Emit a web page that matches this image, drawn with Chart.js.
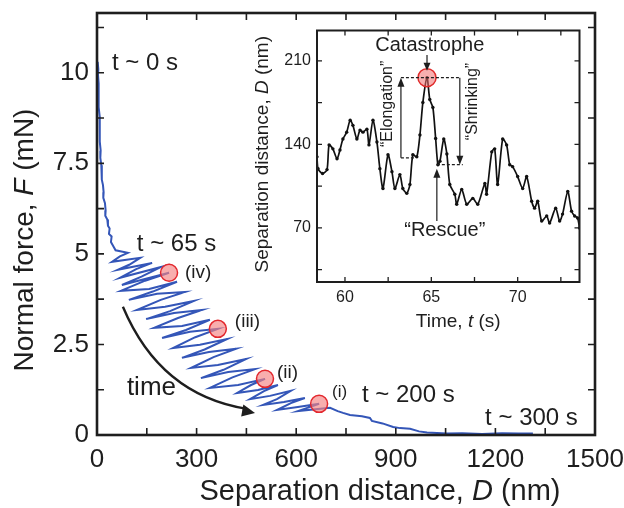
<!DOCTYPE html>
<html>
<head>
<meta charset="utf-8">
<script src="https://cdn.jsdelivr.net/npm/chart.js@4.4.1/dist/chart.umd.min.js"></script>
<style>
  html, body { margin: 0; padding: 0; background: #fff; }
  #wrap { position: relative; width: 624px; height: 508px; overflow: hidden; }
  #main { position: absolute; left: 0; top: 0; }
  #inset { position: absolute; left: 250px; top: 20px; }
</style>
</head>
<body>
<div id="wrap">
  <canvas id="main" width="624" height="508"></canvas>
  <canvas id="inset" width="340" height="320"></canvas>
</div>
<script>
const FONT = '"Liberation Sans", Arial, Helvetica, sans-serif';
const INK = '#1e1e1e';

// ---- Main panel: force trace [separation (nm), force (mN)] ----
const forceTrace = [
  [2, 10.30], [4, 10.10], [3, 9.95], [5, 9.70], [4, 9.50], [6, 9.25], [5, 9.05], [8, 8.80], [7, 8.60], [9, 8.35],
  [9, 8.10], [11, 7.85], [10, 7.65], [13, 7.45], [15, 7.20], [14, 7.05], [18, 6.90], [20, 6.70], [19, 6.55], [24, 6.40],
  [26, 6.20], [25, 6.05], [31, 5.95], [33, 5.78], [38, 5.70], [36, 5.55], [44, 5.48], [42, 5.33], [50, 5.20], [56, 5.10],
  // loading / slip cycles
  [93, 5.03], [69, 4.93], [45, 4.78], [130, 4.89], [97, 4.70], [63, 4.56], [166, 4.75], [118, 4.58], [69, 4.34],
  [193, 4.64], [134, 4.37], [75, 4.14], [217, 4.48], [145, 4.26],
  [72, 3.98], [157, 4.03], [241, 4.23], [168, 3.96], [96, 3.73], [181, 3.90], [265, 3.95], [192, 3.73], [120, 3.45],
  [205, 3.54], [292, 3.70], [220, 3.42], [148, 3.20], [232, 3.37], [316, 3.45], [244, 3.23], [172, 2.96], [256, 3.01],
  [340, 3.18], [268, 2.90], [196, 2.68], [280, 2.85], [364, 2.93], [296, 2.70],
  [229, 2.40], [310, 2.49], [392, 2.65], [324, 2.36], [256, 2.13], [337, 2.29], [419, 2.38], [351, 2.15], [283, 1.85],
  [364, 1.93], [449, 2.10], [381, 1.80], [313, 1.57], [395, 1.74], [476, 1.82], [408, 1.59], [340, 1.30], [425, 1.38],
  [506, 1.55], [464, 1.38],
  [422, 1.16], [485, 1.24], [545, 1.38], [503, 1.21], [461, 0.99], [521, 1.08], [584, 1.22], [542, 0.99], [500, 0.83],
  [563, 0.91], [626, 1.02], [584, 0.88], [542, 0.69], [605, 0.77], [669, 0.86],
  [605, 0.66], [702, 0.75], [725, 0.66], [741, 0.61], [762, 0.55], [798, 0.52], [822, 0.47],
  [828, 0.39], [860, 0.32], [892, 0.22], [913, 0.19], [943, 0.17], [970, 0.10], [994, 0.07], [1054, 0.04],
  [1100, 0.05], [1160, 0.03], [1220, 0.05], [1270, 0.04], [1313, 0.04]
];
const markerD = [217, 364, 506, 669];
const markerF = [4.48, 2.93, 1.55, 0.86];
const markerNames = ['(iv)', '(iii)', '(ii)', '(i)'];
const xTickValues = [0, 300, 600, 900, 1200, 1500];
const xMinorValues = [150, 450, 750, 1050, 1350];
const yTickValues = [0, 2.5, 5, 7.5, 10];
const yMinorValues = [1.25, 3.75, 6.25, 8.75, 11.25];

// ---- Inset: separation vs time ----
const timeS = [
  58.38, 58.44, 58.70, 58.96, 59.08, 59.30, 59.54, 59.71, 59.88, 60.10, 60.30, 60.46, 60.69, 60.87, 61.04, 61.27,
  61.39, 61.62, 61.85, 62.02, 62.20, 62.49, 62.72, 62.89, 63.18, 63.35, 63.58, 63.76, 63.93, 64.16, 64.34, 64.51,
  64.75, 64.91, 65.09, 65.25, 65.38, 65.50, 65.72, 65.90, 66.07, 66.36, 66.47, 66.76, 67.05, 67.40, 67.69, 68.10,
  68.20, 68.50, 68.67, 68.84, 69.13, 69.36, 69.54, 69.71, 70.00, 70.29, 70.52, 70.81, 70.98, 71.16, 71.39, 71.68,
  71.85, 72.20, 72.43, 72.60, 72.90, 73.12, 73.30, 73.47, 73.58
];
const gapNm = [
  129.6, 119.7, 115.6, 118.9, 139.6, 136.3, 128.0, 135.4, 144.5, 150.3, 160.3, 156.0, 144.5, 152.0, 150.3, 152.8,
  139.6, 160.3, 142.1, 119.7, 103.1, 131.3, 117.2, 103.1, 114.7, 103.1, 99.0, 106.4, 131.3, 129.6, 147.9, 175.2,
  196.0, 177.7, 171.0, 145.0, 123.0, 126.0, 144.5, 132.0, 106.4, 98.2, 89.9, 102.3, 89.9, 94.8, 89.9, 107.3,
  98.2, 133.8, 136.3, 106.4, 144.5, 139.6, 123.0, 121.4, 113.1, 103.1, 113.1, 92.4, 86.6, 92.4, 75.8, 80.0,
  74.1, 86.6, 75.8, 81.6, 100.6, 84.1, 80.0, 78.3, 70.0
];
const insetXTicks = [60, 65, 70];
const insetXMinor = [62.5, 67.5, 72.5];
const insetYTicks = [70, 140, 210];
const insetYMinor = [35, 105, 175];

// ---------- drawing helpers ----------
function drawRich(ctx, parts, cx, cy, angle, size) {
  ctx.save();
  ctx.translate(cx, cy);
  ctx.rotate(angle);
  ctx.fillStyle = INK;
  ctx.textBaseline = 'middle';
  ctx.textAlign = 'left';
  const fonts = parts.map(p => (p[1] ? 'italic ' : '') + size + 'px ' + FONT);
  let total = 0;
  parts.forEach((p, i) => { ctx.font = fonts[i]; total += ctx.measureText(p[0]).width; });
  let pos = -total / 2;
  parts.forEach((p, i) => { ctx.font = fonts[i]; ctx.fillText(p[0], pos, 0); pos += ctx.measureText(p[0]).width; });
  ctx.restore();
}

function drawText(ctx, text, x, y, size, align, angle) {
  ctx.save();
  ctx.translate(x, y);
  if (angle) ctx.rotate(angle);
  ctx.font = size + 'px ' + FONT;
  ctx.fillStyle = INK;
  ctx.textAlign = align || 'left';
  ctx.textBaseline = 'middle';
  ctx.fillText(text, 0, 0);
  ctx.restore();
}

function arrowHead(ctx, x, y, dx, dy, len, half) {
  const n = Math.hypot(dx, dy) || 1;
  const ux = dx / n, uy = dy / n;
  ctx.beginPath();
  ctx.moveTo(x, y);
  ctx.lineTo(x - ux * len - uy * half, y - uy * len + ux * half);
  ctx.lineTo(x - ux * len + uy * half, y - uy * len - ux * half);
  ctx.closePath();
  ctx.fill();
}

// Box around the plot area with inward tick marks on all four sides
const framePlugin = {
  id: 'frame',
  afterDraw(chart, args, opts) {
    const { ctx, chartArea: a, scales: { x, y } } = chart;
    ctx.save();
    ctx.strokeStyle = INK;
    ctx.lineWidth = opts.tickWidth;
    ctx.beginPath();
    opts.xMarks.forEach(v => {
      const p = x.getPixelForValue(v);
      ctx.moveTo(p, a.bottom); ctx.lineTo(p, a.bottom - opts.tickLen);
      ctx.moveTo(p, a.top); ctx.lineTo(p, a.top + opts.tickLen);
    });
    opts.yMarks.forEach(v => {
      const p = y.getPixelForValue(v);
      ctx.moveTo(a.left, p); ctx.lineTo(a.left + opts.tickLen, p);
      ctx.moveTo(a.right, p); ctx.lineTo(a.right - opts.tickLen, p);
    });
    ctx.stroke();
    ctx.lineWidth = opts.lineWidth;
    ctx.strokeRect(a.left, a.top, a.right - a.left, a.bottom - a.top);
    ctx.restore();
  }
};

function fixedAxis(size, horizontal) {
  return scale => {
    if (horizontal) scale.height = size; else scale.width = size;
    scale.paddingLeft = scale.paddingRight = scale.paddingTop = scale.paddingBottom = 0;
  };
}

const plainLabel = v => String(v);

// Text, labels and the curved arrow of the main panel
const mainNotesPlugin = {
  id: 'mainNotes',
  afterDatasetsDraw(chart) {
    const { ctx, scales: { x, y } } = chart;
    const px = v => x.getPixelForValue(v), py = v => y.getPixelForValue(v);

    drawText(ctx, 't ~ 0 s', px(45), py(10.25), 24);
    drawText(ctx, 't ~ 65 s', px(120), py(5.25), 24);
    drawText(ctx, 't ~ 200 s', px(798), py(1.10), 24);
    drawText(ctx, 't ~ 300 s', px(1169), py(0.47), 24);
    drawText(ctx, 'time', px(90), py(1.30), 26);

    const offs = [[16, 0, 19], [17, -7, 19], [12, -6, 19], [13, -12, 17]];
    markerNames.forEach((name, i) => {
      drawText(ctx, name, px(markerD[i]) + offs[i][0], py(markerF[i]) + offs[i][1], offs[i][2]);
    });

    // curved "time" arrow
    const sx = px(78), sy = py(3.54), cx = px(190), cy = py(1.10), ex = px(476), ey = py(0.61);
    ctx.save();
    ctx.strokeStyle = INK;
    ctx.fillStyle = INK;
    ctx.lineWidth = 2.4;
    ctx.beginPath();
    ctx.moveTo(sx, sy);
    ctx.quadraticCurveTo(cx, cy, ex - 8, ey - 4);
    ctx.stroke();
    arrowHead(ctx, ex, ey, ex - cx, ey - cy, 13, 6);
    ctx.restore();

    // axis titles
    drawRich(ctx, [['Separation distance, ', 0], ['D', 1], [' (nm)', 0]], 380, 492, 0, 29);
    drawRich(ctx, [['Normal force, ', 0], ['F', 1], [' (mN)', 0]], 25, 240, -Math.PI / 2, 28);
  }
};

// Annotations of the inset: catastrophe / rescue arrows and guide lines
const insetNotesPlugin = {
  id: 'insetNotes',
  afterDatasetsDraw(chart) {
    const { ctx, chartArea: a, scales: { x, y } } = chart;
    const px = v => x.getPixelForValue(v), py = v => y.getPixelForValue(v);
    const peak = Math.max(...gapNm);
    const peakT = timeS[gapNm.indexOf(peak)];

    ctx.save();
    ctx.strokeStyle = INK;
    ctx.fillStyle = INK;
    ctx.lineWidth = 1.2;

    // dashed guides
    ctx.setLineDash([3, 2]);
    ctx.beginPath();
    ctx.moveTo(px(63.24), py(peak)); ctx.lineTo(px(66.65), py(peak));
    ctx.moveTo(px(63.24), py(128.8)); ctx.lineTo(px(64.05), py(128.8));
    ctx.moveTo(px(65.32), py(123.0)); ctx.lineTo(px(66.82), py(123.0));
    ctx.stroke();
    ctx.setLineDash([]);

    // elongation (up), shrinking (down), rescue (up), catastrophe (down)
    ctx.beginPath();
    ctx.moveTo(px(63.24), py(128.8)); ctx.lineTo(px(63.24), py(peak) + 6);
    ctx.moveTo(px(66.65), py(peak)); ctx.lineTo(px(66.65), py(123.0) - 6);
    ctx.moveTo(px(65.32), py(75.8)); ctx.lineTo(px(65.32), py(123.0) + 12);
    ctx.moveTo(px(peakT), py(215)); ctx.lineTo(px(peakT), py(peak) - 14);
    ctx.stroke();
    arrowHead(ctx, px(63.24), py(peak), 0, -1, 9, 3.5);
    arrowHead(ctx, px(66.65), py(123.0), 0, 1, 9, 3.5);
    arrowHead(ctx, px(65.32), py(123.0) + 4, 0, -1, 9, 3.5);
    arrowHead(ctx, px(peakT), py(peak) - 7, 0, 1, 8, 3.5);
    ctx.restore();

    drawText(ctx, 'Catastrophe', px(64.91), py(223), 20, 'center');
    drawText(ctx, '\u201CRescue\u201D', px(65.78), py(67.5), 20, 'center');
    drawText(ctx, '\u201CElongation\u201D', px(62.49), py(174), 16, 'center', -Math.PI / 2);
    drawText(ctx, '\u201CShrinking\u201D', px(67.4), py(176), 16, 'center', -Math.PI / 2);

    // inset axis titles
    drawRich(ctx, [['Time, ', 0], ['t', 1], [' (s)', 0]], (a.left + a.right) / 2 + 10, a.bottom + 40, 0, 19);
    drawRich(ctx, [['Separation distance, ', 0], ['D', 1], [' (nm)', 0]], a.left - 54, (a.top + a.bottom) / 2 - 2, -Math.PI / 2, 19);
  }
};

// ---------- main chart ----------
new Chart(document.getElementById('main'), {
  type: 'line',
  data: {
    datasets: [
      {
        type: 'scatter',
        data: markerD.map((d, i) => ({ x: d, y: markerF[i] })),
        pointRadius: 8.5,
        pointBackgroundColor: 'rgba(244, 130, 130, 0.65)',
        pointBorderColor: '#e3282e',
        pointBorderWidth: 1.5,
        order: 0
      },
      {
        data: forceTrace.map(p => ({ x: p[0], y: p[1] })),
        borderColor: '#3456b8',
        borderWidth: 2,
        pointRadius: 0,
        tension: 0,
        fill: false,
        order: 1
      }
    ]
  },
  options: {
    responsive: false,
    animation: false,
    devicePixelRatio: 1,
    events: [],
    layout: { padding: { left: 0, top: 13, right: 29, bottom: 0 } },
    plugins: {
      legend: { display: false },
      tooltip: { enabled: false },
      frame: { lineWidth: 2.6, tickWidth: 1.6, tickLen: 7, xMarks: xTickValues.concat(xMinorValues), yMarks: yTickValues.concat(yMinorValues) }
    },
    scales: {
      x: {
        type: 'linear', min: 0, max: 1500,
        afterBuildTicks: s => { s.ticks = xTickValues.map(v => ({ value: v })); },
        afterFit: fixedAxis(73, true),
        grid: { display: false, drawTicks: false },
        border: { display: false },
        ticks: { font: { family: FONT, size: 26 }, color: INK, padding: 9, maxRotation: 0, autoSkip: false, callback: plainLabel }
      },
      y: {
        type: 'linear', min: 0, max: 11.65,
        afterBuildTicks: s => { s.ticks = yTickValues.map(v => ({ value: v })); },
        afterFit: fixedAxis(97, false),
        grid: { display: false, drawTicks: false },
        border: { display: false },
        ticks: { font: { family: FONT, size: 26 }, color: INK, padding: 8, autoSkip: false, callback: plainLabel }
      }
    }
  },
  plugins: [framePlugin, mainNotesPlugin]
});

// ---------- inset chart ----------
const peakValue = Math.max(...gapNm);
const peakTime = timeS[gapNm.indexOf(peakValue)];

new Chart(document.getElementById('inset'), {
  type: 'line',
  data: {
    datasets: [
      {
        type: 'scatter',
        data: [{ x: peakTime, y: peakValue }],
        pointRadius: 9,
        pointBackgroundColor: 'rgba(240, 110, 110, 0.55)',
        pointBorderColor: '#e02a2a',
        pointBorderWidth: 1.5,
        order: 0
      },
      {
        data: timeS.map((t, i) => ({ x: t, y: gapNm[i] })),
        borderColor: '#111',
        borderWidth: 1.7,
        pointRadius: 1.7,
        pointBackgroundColor: '#111',
        pointBorderWidth: 0,
        tension: 0.25,
        fill: false,
        order: 1
      }
    ]
  },
  options: {
    responsive: false,
    animation: false,
    devicePixelRatio: 1,
    events: [],
    layout: { padding: { left: 0, top: 7, right: 10, bottom: 0 } },
    plugins: {
      legend: { display: false },
      tooltip: { enabled: false },
      frame: { lineWidth: 2, tickWidth: 1.3, tickLen: 5, xMarks: insetXTicks.concat(insetXMinor), yMarks: insetYTicks.concat(insetYMinor) }
    },
    scales: {
      x: {
        type: 'linear', min: 58.38, max: 73.58,
        afterBuildTicks: s => { s.ticks = insetXTicks.map(v => ({ value: v })); },
        afterFit: fixedAxis(58, true),
        grid: { display: false, drawTicks: false },
        border: { display: false },
        ticks: { font: { family: FONT, size: 16 }, color: INK, padding: 6, maxRotation: 0, autoSkip: false, callback: plainLabel }
      },
      y: {
        type: 'linear', min: 24.7, max: 235.5,
        afterBuildTicks: s => { s.ticks = insetYTicks.map(v => ({ value: v })); },
        afterFit: fixedAxis(67, false),
        grid: { display: false, drawTicks: false },
        border: { display: false },
        ticks: { font: { family: FONT, size: 16 }, color: INK, padding: 6, autoSkip: false, callback: plainLabel }
      }
    }
  },
  plugins: [framePlugin, insetNotesPlugin]
});
</script>
</body>
</html>
